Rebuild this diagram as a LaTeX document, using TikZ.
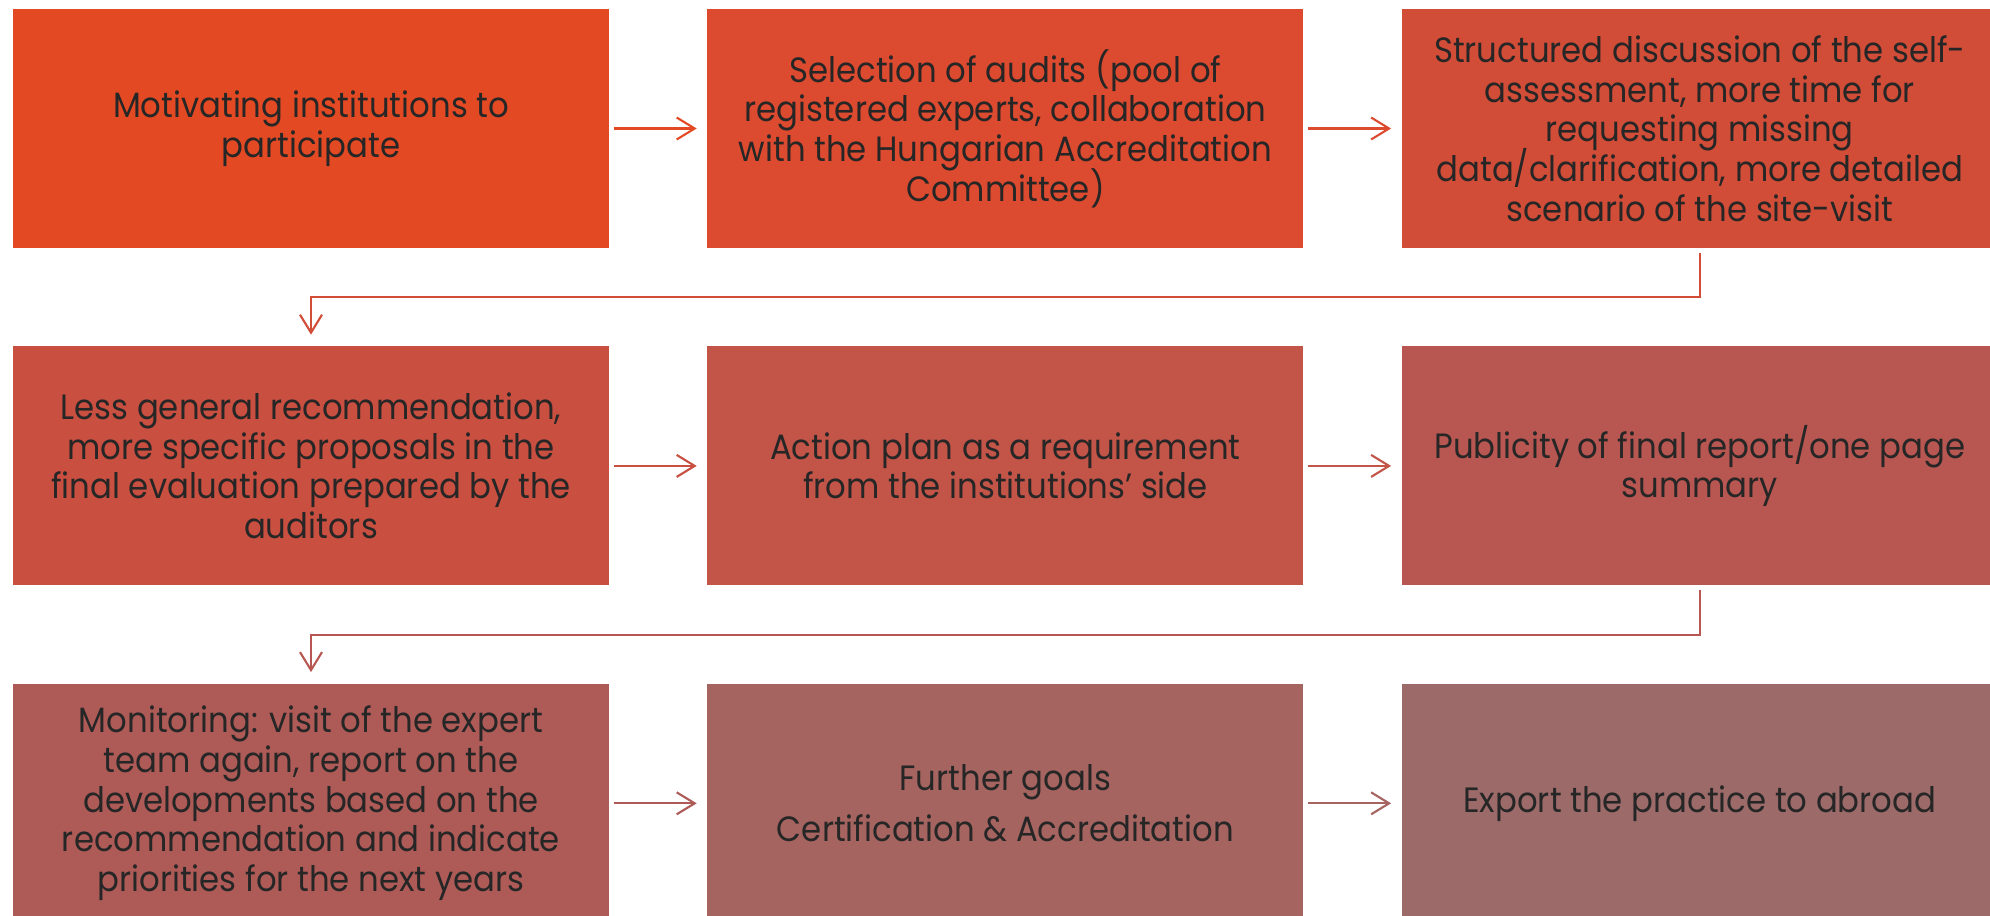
\documentclass[tikz,border=0pt]{standalone}
\usepackage{fontspec}
\setmainfont{Poppins}[FakeStretch=0.92]
\usetikzlibrary{positioning,arrows.meta}

\definecolor{stepA}{HTML}{E34A24}
\definecolor{stepB}{HTML}{DC4A2F}
\definecolor{stepC}{HTML}{D24D38}
\definecolor{stepD}{HTML}{C94F40}
\definecolor{stepE}{HTML}{C25448}
\definecolor{stepF}{HTML}{B85751}
\definecolor{stepG}{HTML}{AE5B57}
\definecolor{stepH}{HTML}{A5645F}
\definecolor{stepI}{HTML}{9B6A69}
\definecolor{inkgray}{HTML}{262626}
\newcommand\boxfont{\fontsize{10}{11.3}\selectfont\lineskiplimit=-10pt\relax\lineskip=0pt\relax}

\begin{document}
\begin{tikzpicture}[
  node distance=9.7mm,
  box/.style={rectangle, fill=#1, minimum width=59.6mm, minimum height=23.9mm,
    inner sep=0pt, align=center, text=inkgray, font=\boxfont},
  nxt/.style={draw=#1, line width=0.6pt, -{Straight Barb[length=1.8mm,width=2.2mm]},
    shorten <=0.4mm, shorten >=1mm},
]
\useasboundingbox (0,0) rectangle (19.9,-9.15);

\node[box=stepA] (motiv) at (3.11,-1.285) {Motivating institutions to\\participate};
\node[box=stepB, right=of motiv] (select) {Selection of audits (pool of\\registered experts, collaboration\\with the Hungarian Accreditation\\Committee)};
\node[box=stepC, right=of select] (discuss) {Structured discussion of the self-\\assessment, more time for\\requesting missing\\data/clarification, more detailed\\scenario of the site-visit};

\node[box=stepD, below=of motiv] (recomm) {Less general recommendation,\\more specific proposals in the\\final evaluation prepared by the\\auditors};
\node[box=stepE, right=of recomm] (action) {Action plan as a requirement\\from the institutions’ side};
\node[box=stepF, right=of action] (public) {Publicity of final report/one page\\summary};

\node[box=stepG, below=of recomm] (monitor) {Monitoring: visit of the expert\\team again, report on the\\developments based on the\\recommendation and indicate\\priorities for the next years};
\node[box=stepH, right=of monitor] (goals) {Further goals\\[1.2mm]Certification \& Accreditation};
\node[box=stepI, right=of goals] (export) {Export the practice to abroad};

\draw[nxt=stepA] (motiv) -- (select);
\draw[nxt=stepB] (select) -- (discuss);
\draw[nxt=stepC, shorten >=1.1mm] (discuss.south) -- ++(0,-4.85mm) -| (recomm.north);

\draw[nxt=stepD] (recomm) -- (action);
\draw[nxt=stepE] (action) -- (public);
\draw[nxt=stepF, shorten >=1.1mm] (public.south) -- ++(0,-4.85mm) -| (monitor.north);

\draw[nxt=stepG] (monitor) -- (goals);
\draw[nxt=stepH] (goals) -- (export);
\end{tikzpicture}
\end{document}
